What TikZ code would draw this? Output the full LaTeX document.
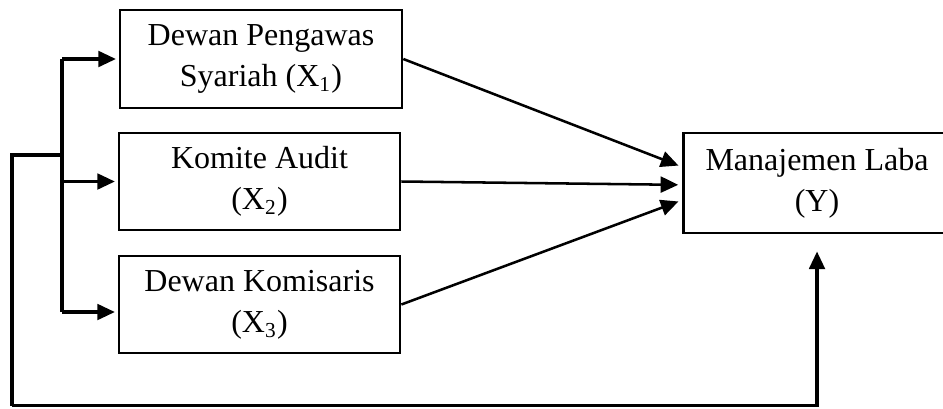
\documentclass[tikz,border=0pt]{standalone}
\usepackage{fontspec}
\setmainfont{Liberation Serif}
\usepackage{tikz}
\usetikzlibrary{arrows.meta,positioning}

\begin{document}
\begin{tikzpicture}[
        x=0.375pt, y=-0.375pt,
        font=\fontsize{12}{15.4}\selectfont,
        block/.style={rectangle, draw, line width=1pt, align=center, inner sep=0pt,
                     minimum width=105.4pt, minimum height=36.4pt},
        line/.style={draw, line width=0.95pt, shorten >=1.5pt, -{Triangle[length=6.6pt,width=6pt]}},
        thickline/.style={draw, line width=1.3pt},
        brline/.style={thickline, shorten >=1pt, -{Triangle[length=6.6pt,width=5.8pt]}}
      ]
        \useasboundingbox (0,0) rectangle (943,408);

        % Independent variables
        \node [block, minimum width=105.75pt, minimum height=36.75pt] (x1) at (261,59) {Dewan Pengawas\\Syariah (X\textsubscript{1})};
        \node [block] (x2) at (259.5,181.5) {Komite Audit\\(X\textsubscript{2})};
        \node [block] (x3) at (259.5,304.5) {Dewan Komisaris\\(X\textsubscript{3})};

        % Dependent variable
        \node [block, minimum width=100.1pt, minimum height=37.5pt] (y) at (817,183) {Manajemen Laba\\(Y)};

        % Bracket
        \coordinate (b1) at (62,59);
        \coordinate (b2) at (62,181.5);
        \coordinate (b3) at (62,312);
        \coordinate (fb) at (62,155);
        \coordinate (c1) at (12,405.5);
        \draw [thickline] (b1) -- (b3);
        \draw [brline] (b1) -- (x1.west);
        \draw [brline] (b2) -- (x2.west);
        \draw [brline] (b3) -- (b3 -| x3.west);

        % Lines
        \draw [line] (x1.east) -- ([yshift=6pt]y.west);
        \draw [line] (x2.east) -- ([yshift=-0.7pt]y.west);
        \draw [line] (x3.east) -- ([yshift=-6.4pt]y.west);

        % Feedback
        \draw [thickline] (fb) -| (c1);
        \draw [brline, shorten >=6.4pt] (c1) -| (y.south);
      \end{tikzpicture}
\end{document}
